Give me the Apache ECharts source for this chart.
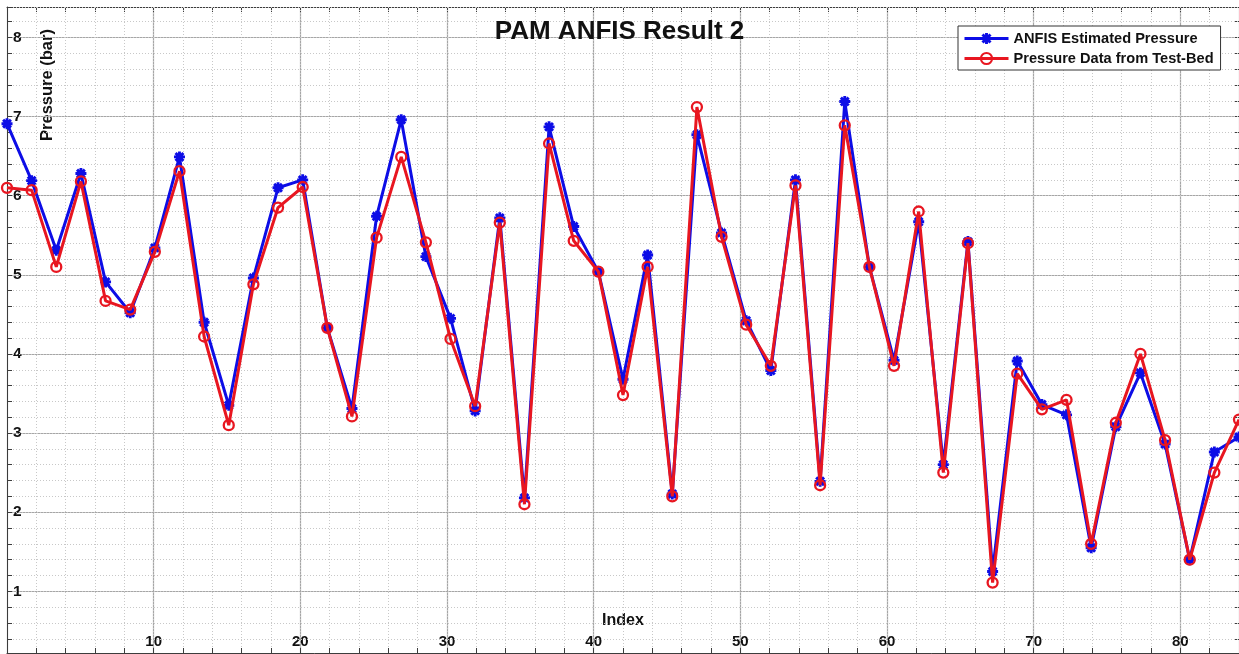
<!DOCTYPE html>
<html>
<head>
<meta charset="utf-8">
<title>PAM ANFIS Result 2</title>
<script src="https://cdn.jsdelivr.net/npm/echarts@6/dist/echarts.min.js"></script>
<style>
  html, body { margin: 0; padding: 0; background: #fff; }
  #chart { width: 1239px; height: 654px; }
</style>
</head>
<body>
<div id="chart"></div>
<script>
// sample index (x)
const sampleIndex = [0, 1.68, 3.36, 5.04, 6.72, 8.4, 10.08, 11.76, 13.44, 15.12,
  16.8, 18.48, 20.16, 21.84, 23.52, 25.2, 26.88, 28.56, 30.24, 31.92,
  33.6, 35.28, 36.96, 38.64, 40.32, 42.0, 43.68, 45.36, 47.04, 48.72,
  50.4, 52.08, 53.76, 55.44, 57.12, 58.8, 60.48, 62.16, 63.84, 65.52,
  67.2, 68.88, 70.56, 72.24, 73.92, 75.6, 77.28, 78.96, 80.64, 82.32, 84.0];

// ANFIS estimated pressure (bar)
const anfisPressure = [6.91, 6.19, 5.31, 6.28, 4.91, 4.52, 5.34, 6.49, 4.40, 3.35,
  4.96, 6.10, 6.20, 4.33, 3.31, 5.74, 6.96, 5.23, 4.45, 3.28,
  5.72, 2.18, 6.87, 5.61, 5.04, 3.68, 5.25, 2.23, 6.77, 5.53,
  4.42, 3.79, 6.20, 2.39, 7.19, 5.10, 3.92, 5.67, 2.60, 5.42,
  1.25, 3.91, 3.36, 3.23, 1.55, 3.08, 3.76, 2.86, 1.40, 2.76, 2.95];

// pressure measured on the test bed (bar)
const testBedPressure = [6.10, 6.07, 5.10, 6.18, 4.67, 4.56, 5.29, 6.31, 4.22, 3.10,
  4.88, 5.85, 6.11, 4.33, 3.21, 5.47, 6.49, 5.41, 4.19, 3.34,
  5.66, 2.10, 6.66, 5.43, 5.04, 3.48, 5.10, 2.20, 7.12, 5.48,
  4.37, 3.85, 6.13, 2.34, 6.89, 5.10, 3.85, 5.80, 2.50, 5.40,
  1.11, 3.75, 3.30, 3.42, 1.60, 3.13, 4.00, 2.91, 1.40, 2.50, 3.17];

const seriesNames = ["ANFIS Estimated Pressure", "Pressure Data from Test-Bed"];

const FONT = "'Liberation Sans', Arial, sans-serif";
const BOX = "#3c3c3c";
const MAJOR = "#a6a6a6";
const MINOR = "#c8c8c8";

// MATLAB style '*' marker
const starPath = "path://M-1.3,-5L1.3,-5L1.3,5L-1.3,5Z M-5,-1.3L5,-1.3L5,1.3L-5,1.3Z " +
  "M-4.5,-2.6L-2.6,-4.5L4.5,2.6L2.6,4.5Z M2.6,-4.5L4.5,-2.6L-2.6,4.5L-4.5,2.6Z";

function pairs(values) {
  return values.map((v, i) => [sampleIndex[i], v]);
}

function initChart() {
  const chart = echarts.init(document.getElementById("chart"), null, { renderer: "canvas" });
  const X_MIN = 0, X_MAX = 84, Y_MIN = 0, Y_MAX = 8.385;

  const option = {
    backgroundColor: "#fff",
    animation: false,
    textStyle: { fontFamily: FONT },
    title: {
      text: "PAM ANFIS Result 2",
      left: "center",
      top: 19,
      padding: 0,
      textStyle: { fontFamily: FONT, fontSize: 26, fontWeight: "bold", color: "#111" }
    },
    legend: {
      orient: "vertical",
      left: 958,
      top: 26,
      padding: [5, 7, 4, 5],
      itemWidth: 44,
      itemHeight: 14,
      itemGap: 5,
      backgroundColor: "#fff",
      borderColor: "#333",
      borderWidth: 1,
      borderRadius: 0,
      lineStyle: { width: 3 },
      data: seriesNames,
      textStyle: { fontFamily: FONT, fontSize: 14.6, fontWeight: "bold", color: "#111" }
    },
    grid: {
      left: 7,
      right: 0,
      top: 7,
      bottom: -16.4,
      outerBoundsMode: "none",
      containLabel: false
    },
    graphic: [{
      type: "text",
      x: 47,
      y: 85,
      rotation: Math.PI / 2,
      style: {
        text: "Pressure (bar)",
        fontFamily: FONT,
        fontSize: 16.5,
        fontWeight: "bold",
        fill: "#111",
        align: "center",
        verticalAlign: "middle"
      }
    }],
    xAxis: [
      {
        // major: labels + solid grid
        type: "value",
        position: "bottom",
        min: X_MIN, max: X_MAX, interval: 10,
        offset: -17.4,
        name: "Index",
        nameLocation: "middle",
        nameGap: -32,
        nameTextStyle: { fontFamily: FONT, fontSize: 16, fontWeight: "bold", color: "#111", verticalAlign: "middle" },
        axisLine: { show: false, onZero: false },
        axisTick: { show: false },
        axisLabel: {
          inside: true, margin: 4, showMinLabel: false, showMaxLabel: false,
          fontFamily: FONT, fontSize: 15, fontWeight: "bold", color: "#111"
        },
        splitLine: { show: true, lineStyle: { color: MAJOR, width: 1.2 } }
      },
      {
        // minor: dotted grid + bottom ticks
        type: "value",
        position: "bottom",
        min: X_MIN, max: X_MAX, interval: 2,
        offset: -17.4,
        axisLine: { show: true, onZero: false, lineStyle: { color: BOX, width: 1 } },
        axisTick: { show: true, inside: true, length: 5, lineStyle: { color: BOX } },
        axisLabel: { show: false },
        splitLine: { show: true, lineStyle: { color: MINOR, width: 1, type: [1, 2] } },
        z: 1
      },
      {
        // top box edge
        type: "value",
        position: "top",
        min: X_MIN, max: X_MAX, interval: 2,
        axisLine: { show: true, onZero: false, lineStyle: { color: BOX, width: 1 } },
        axisTick: { show: true, inside: true, length: 5, lineStyle: { color: BOX } },
        axisLabel: { show: false },
        splitLine: { show: false }
      }
    ],
    yAxis: [
      {
        type: "value",
        position: "left",
        min: Y_MIN, max: Y_MAX, interval: 1,
        axisLine: { show: false, onZero: false },
        axisTick: { show: false },
        axisLabel: {
          inside: true, margin: 6, showMinLabel: false, showMaxLabel: false,
          fontFamily: FONT, fontSize: 15.5, fontWeight: "bold", color: "#111"
        },
        splitLine: { show: true, lineStyle: { color: MAJOR, width: 1.2 } }
      },
      {
        type: "value",
        position: "left",
        min: Y_MIN, max: Y_MAX, interval: 0.2,
        axisLine: { show: true, onZero: false, lineStyle: { color: BOX, width: 1 } },
        axisTick: { show: true, inside: true, length: 5, lineStyle: { color: BOX } },
        axisLabel: { show: false },
        splitLine: { show: true, lineStyle: { color: MINOR, width: 1, type: [1, 2] } },
        z: 1
      },
      {
        type: "value",
        position: "right",
        min: Y_MIN, max: Y_MAX, interval: 0.2,
        axisLine: { show: true, onZero: false, lineStyle: { color: BOX, width: 1 } },
        axisTick: { show: true, inside: true, length: 5, lineStyle: { color: BOX } },
        axisLabel: { show: false },
        splitLine: { show: false }
      }
    ],
    series: [
      {
        name: seriesNames[0],
        type: "line",
        xAxisIndex: 0,
        yAxisIndex: 0,
        data: pairs(anfisPressure),
        symbol: starPath,
        symbolSize: 11,
        showAllSymbol: true,
        lineStyle: { color: "#0d0de6", width: 3 },
        itemStyle: { color: "#0d0de6" },
        emphasis: { disabled: true },
        z: 3
      },
      {
        name: seriesNames[1],
        type: "line",
        xAxisIndex: 0,
        yAxisIndex: 0,
        data: pairs(testBedPressure),
        symbol: "circle",
        symbolSize: 10,
        showAllSymbol: true,
        lineStyle: { color: "#e81620", width: 3 },
        itemStyle: { color: "rgba(0,0,0,0)", borderColor: "#e81620", borderWidth: 2.3 },
        emphasis: { disabled: true },
        z: 4
      }
    ]
  };

  chart.setOption(option);
  return chart;
}

initChart();
</script>
</body>
</html>
